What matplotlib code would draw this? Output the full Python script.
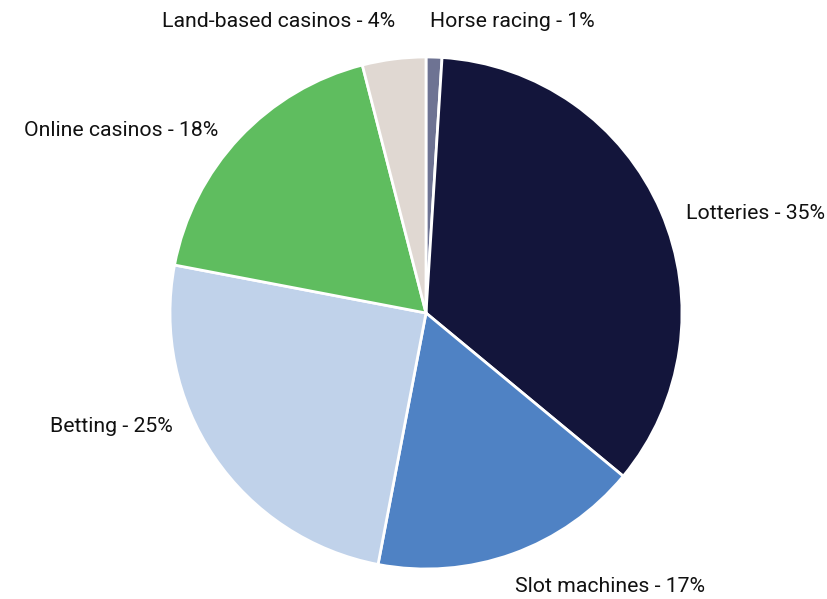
import matplotlib
matplotlib.use("Agg")
import matplotlib.pyplot as plt

categories = ["Horse racing", "Lotteries", "Slot machines", "Betting", "Online casinos", "Land-based casinos"]
values = [1, 35, 17, 25, 18, 4]
colors = ["#6e7393", "#13153b", "#4f82c4", "#c0d2ea", "#5fbd5f", "#e0d8d2"]

# label anchor positions in pie-radius units (x, y, horizontal alignment)
label_pos = [(0.016, 1.137, "left"), (1.016, 0.39, "left"), (0.348, -1.07, "left"),
             (-0.988, -0.445, "right"), (-0.8125, 0.711, "right"), (-0.121, 1.137, "right")]

fig = plt.figure(figsize=(8.27, 5.99), dpi=100)
ax = fig.add_axes([0, 0, 1, 1])
ax.pie(values, colors=colors, startangle=90, counterclock=False, radius=1,
       wedgeprops=dict(edgecolor="white", linewidth=2))
for cat, v, (x, y, ha) in zip(categories, values, label_pos):
    ax.text(x, y, f"{cat} - {v}%", ha=ha, va="center", fontsize=15.3,
            family="Roboto", color="#111111")
ax.set_xlim(-426 / 256, (827 - 426) / 256)
ax.set_ylim((313 - 599) / 256, 313 / 256)
ax.set_aspect("auto")
ax.axis("off")
fig.savefig("out.png", dpi=100)
